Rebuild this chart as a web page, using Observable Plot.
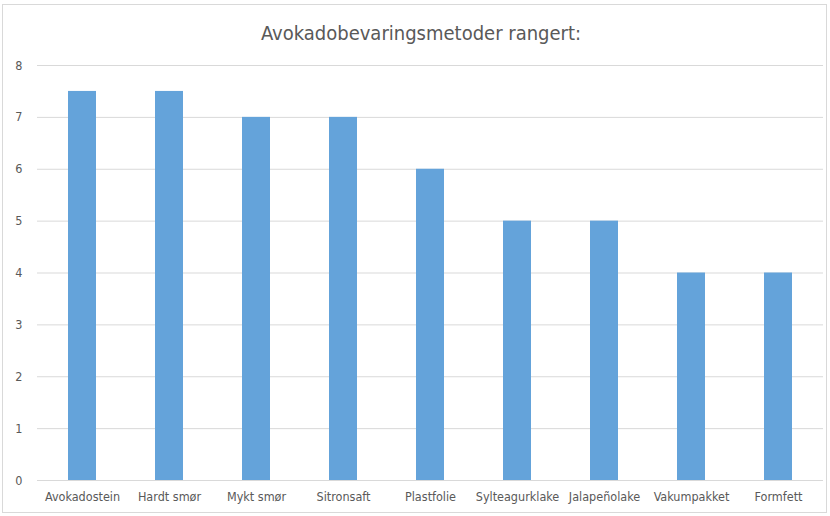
<!DOCTYPE html>
<html>
<head>
<meta charset="utf-8">
<script src="https://cdn.jsdelivr.net/npm/d3@7"></script>
<script src="https://cdn.jsdelivr.net/npm/@observablehq/plot@0.6"></script>
<style>
  html, body { margin: 0; padding: 0; background: #fff; }
  #wrap { position: relative; width: 830px; height: 516px; overflow: hidden; font-family: "Liberation Sans Narrow", "DejaVu Sans Condensed", "Liberation Sans", sans-serif; }
  #frame { position: absolute; left: 2px; top: 4px; width: 825px; height: 509px; border: 1px solid #d9d9d9; box-sizing: border-box; pointer-events: none; }
  #title { position: absolute; left: 12px; width: 818px; top: 21px; text-align: center; font-size: 20px; color: #595959; white-space: pre; }
  #chart { position: absolute; left: 0; top: 0; }
</style>
</head>
<body>
<div id="wrap">
  <div id="chart"></div>
  <div id="title">Avokadobevaringsmetoder rangert:</div>
  <div id="frame"></div>
</div>
<script>
const categories = ["Avokadostein", "Hardt smør", "Mykt smør", "Sitronsaft", "Plastfolie", "Sylteagurklake", "Jalapeñolake", "Vakumpakket", "Formfett"];
const values = [7.5, 7.5, 7, 7, 6, 5, 5, 4, 4];
const yTicks = [0, 1, 2, 3, 4, 5, 6, 7, 8];

const data = categories.map((c, i) => ({category: c, value: values[i]}));

const chart = Plot.plot({
  width: 830,
  height: 516,
  marginTop: 65,
  marginBottom: 36,
  marginLeft: 37,
  marginRight: 7,
  style: {fontFamily: '"Liberation Sans Narrow", "DejaVu Sans Condensed", "Liberation Sans", sans-serif', fontSize: "12.5px", color: "#595959", background: "transparent"},
  x: {domain: categories, paddingInner: 0.68, paddingOuter: 0.34, label: null},
  y: {domain: [0, 8], ticks: yTicks, label: null},
  marks: [
    Plot.gridY(yTicks, {stroke: "#d9d9d9", strokeOpacity: 1, strokeWidth: 1}),
    Plot.barY(data, {x: "category", y: "value", fill: "#64a3da"}),
    Plot.axisX({tickSize: 0, tickPadding: 12, label: null}),
    Plot.axisY({ticks: yTicks, tickSize: 0, tickPadding: 15, label: null})
  ]
});
document.getElementById("chart").appendChild(chart);
</script>
</body>
</html>
